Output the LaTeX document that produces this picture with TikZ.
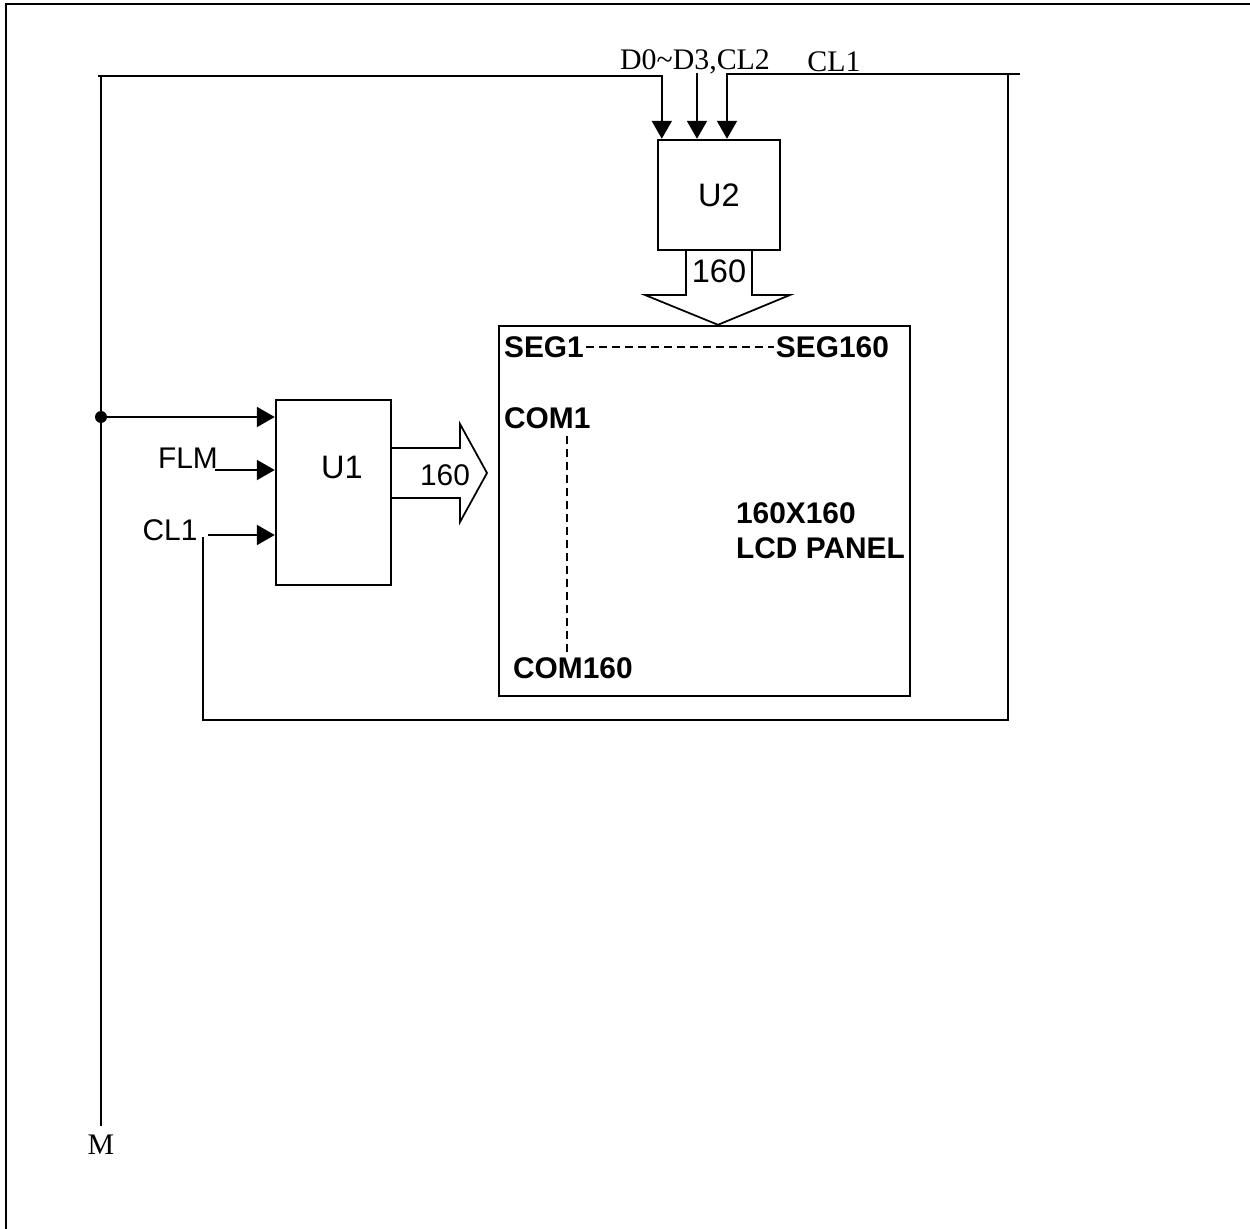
\documentclass[tikz,border=0pt]{standalone}
\usepackage{fontspec}
\setmainfont{Liberation Serif}
\setsansfont{Liberation Sans}
\usetikzlibrary{arrows.meta}

\tikzset{
  blk/.style={draw, line width=1.4pt, inner sep=0pt},
  sig/.style={line width=1.2pt, -{Triangle[length=0.36cm,width=0.4cm]}},
  wire/.style={line width=1.2pt},
  bus/.style={line width=1pt, fill=white, line join=miter},
  txt/.style={font=\sffamily\fontsize{17}{20}\selectfont, inner sep=1pt},
  ntxt/.style={font=\sffamily\fontsize{18.5}{20}\selectfont, inner sep=1pt},
  btxt/.style={font=\sffamily\bfseries\fontsize{17}{20}\selectfont, inner sep=1pt},
  rtxt/.style={font=\fontsize{17}{20}\selectfont, inner sep=1pt},
  dash line/.style={line width=0.8pt, dash pattern=on 0.16cm off 0.1cm}
}

\begin{document}
\begin{tikzpicture}[x=0.02cm, y=-0.02cm]
                \useasboundingbox (0,0) rectangle (1250,1229);
                % frame
                \draw[line width=0.8pt] (6,1229) -- (6,4) -- (1250,4);

                % blocks
                \node[blk, minimum width=2.44cm, minimum height=2.2cm] (U2) at (719,195) {};
                \node[ntxt] at (U2.center) {U2};
                \node[blk, minimum width=2.3cm, minimum height=3.7cm] (U1) at (333.5,492.5) {};
                \node[ntxt] at (342,467) {U1};
                \node[blk, minimum width=8.22cm, minimum height=7.4cm] (panel) at (704.5,511) {};

                % buses
                \draw[bus] (U2.south -| 686,0) -- (686,295) -- (645,295) -- (panel.north -| 718,0) -- (790,295) -- (752,295) -- (U2.south -| 752,0);
                \node[ntxt] at (719,271) {160};
                \draw[bus] (U1.east |- 0,448) -- (460,448) -- (460,424) -- (487,473) -- (460,522) -- (460,498) -- (U1.east |- 0,498);
                \node[txt] at (445,475) {160};

                % panel texts
                \node[btxt, anchor=west] (seg1) at (502,347) {SEG1};
                \node[btxt, anchor=east] (seg160) at (891,347) {SEG160};
                \draw[dash line] (seg1.east) -- (seg160.west);
                \node[btxt, anchor=west] (com1) at (502,418) {COM1};
                \node[btxt, anchor=west] (com160) at (511,668) {COM160};
                \coordinate (c1) at (567,436);
                \coordinate (c2) at (567,654);
                \draw[dash line] (c1) -- (c2);
                \node[btxt, anchor=west, align=left] (name) at (734,531) {160X160\\LCD PANEL};

                % signals into U2
                \coordinate (mtop) at (101,76);
                \coordinate (mbot) at (101,1126);
                \coordinate (d0) at (697,73);
                \coordinate (cl1top) at (727,74);
                \coordinate (rtop) at (1008,74);
                \coordinate (rbot) at (1008,720);
                \coordinate (lbot) at (203,720);
                \coordinate (ltop) at (203,537);
                \node[rtxt] (dlbl) at (695,62) {D0\textasciitilde D3,CL2};
                \node[rtxt] (cllbl) at (834,62) {CL1};
                \draw[sig] (mtop) -| ([xshift=0.1cm]U2.north west);
                \draw[sig] (d0) -- (d0 |- U2.north);
                \draw[sig] (rtop) -- (cl1top) -- (cl1top |- U2.north);
                \draw[wire] (1020,74) -- (rtop) -- (rbot) -- (lbot) -- (ltop);

                % M line
                \draw[wire] (98,76) -- (mtop) -- (mbot);
                \node[rtxt, below=4pt] (mlbl) at (mbot) {M};
                \coordinate (dot) at (101,417);
                \fill (dot) circle (0.12cm);
                \draw[sig] (dot) -- (dot -| U1.west);

                % signals into U1
                \node[txt] (flm) at (188,458) {FLM};
                \coordinate (flmend) at (215,470);
                \draw[sig] (flmend) -- (flmend -| U1.west);
                \node[txt] (cl1) at (170,530) {CL1};
                \coordinate (clend) at (208,535);
                \draw[sig] (clend) -- (clend -| U1.west);
            \end{tikzpicture}
\end{document}
